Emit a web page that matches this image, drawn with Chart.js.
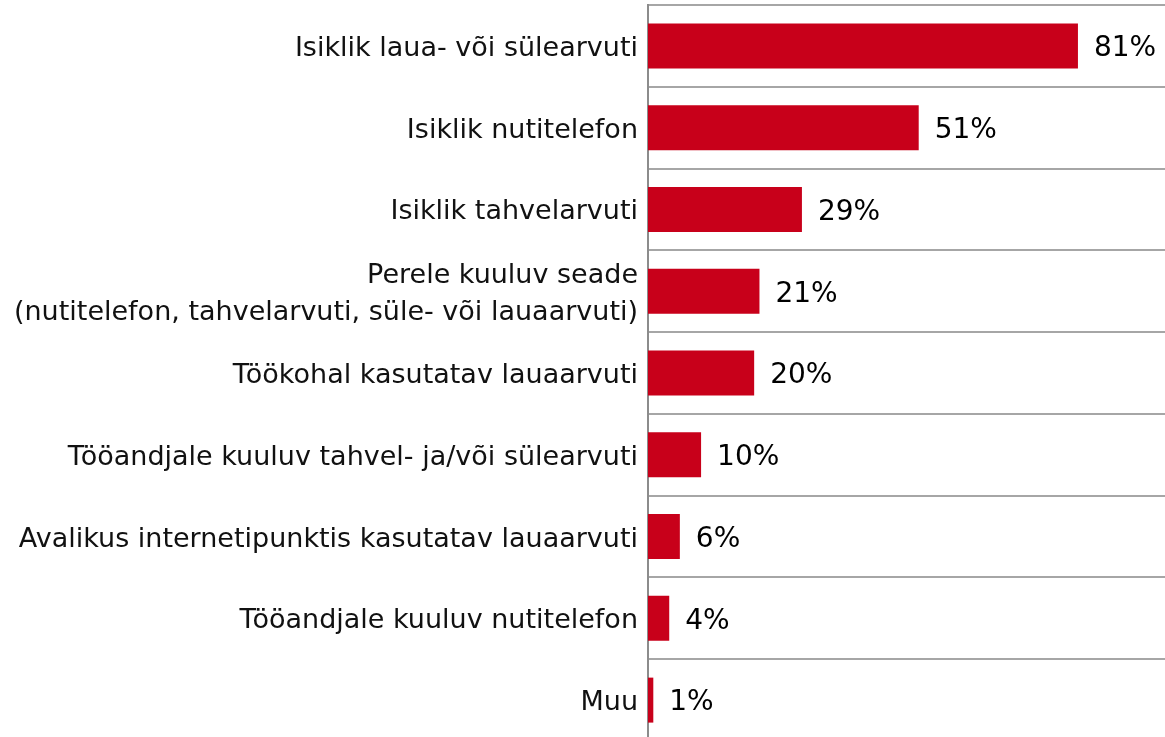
<!DOCTYPE html>
<html>
<head>
<meta charset="utf-8">
<script src="https://cdn.jsdelivr.net/npm/chart.js@4"></script>
<style>
  html, body { margin: 0; padding: 0; overflow: hidden; background: #fff; }
  #wrap { position: relative; width: 1165px; height: 741px; }
</style>
</head>
<body>
<div id="wrap"><canvas id="grafico"></canvas></div>
<script>
const categorias = [
  'Isiklik laua- või sülearvuti',
  'Isiklik nutitelefon',
  'Isiklik tahvelarvuti',
  ['Perele kuuluv seade', '(nutitelefon, tahvelarvuti, süle- või lauaarvuti)'],
  'Töökohal kasutatav lauaarvuti',
  'Tööandjale kuuluv tahvel- ja/või sülearvuti',
  'Avalikus internetipunktis kasutatav lauaarvuti',
  'Tööandjale kuuluv nutitelefon',
  'Muu'
];
const valores = [81, 51, 29, 21, 20, 10, 6, 4, 1];

const fonte = "'DejaVu Sans', Verdana, sans-serif";

// rótulos de valor à direita das barras
const rotulos = {
  id: 'rotulos',
  afterDatasetsDraw(chart) {
    const ctx = chart.ctx;
    const meta = chart.getDatasetMeta(0);
    ctx.save();
    ctx.font = '28px ' + fonte;
    ctx.fillStyle = '#000';
    ctx.textAlign = 'left';
    ctx.textBaseline = 'middle';
    meta.data.forEach((bar, i) => {
      ctx.fillText(valores[i] + '%', bar.x + 16, bar.y + 3);
    });
    ctx.restore();
  }
};

new Chart(document.getElementById('grafico'), {
  type: 'bar',
  data: {
    labels: categorias,
    datasets: [{
      data: valores,
      backgroundColor: '#c8001a',
      borderWidth: 0,
      categoryPercentage: 1,
      barPercentage: 0.55
    }]
  },
  options: {
    indexAxis: 'y',
    responsive: true,
    maintainAspectRatio: false,
    animation: false,
    layout: { padding: { top: 5, right: 0, bottom: 0, left: 0 } },
    plugins: {
      legend: { display: false },
      tooltip: { enabled: false }
    },
    scales: {
      x: {
        display: false,
        min: 0,
        max: 97.4
      },
      y: {
        afterFit: (scale) => {
          scale.width = 648;
          scale.paddingTop = 0;
          scale.paddingBottom = 0;
        },
        grid: { color: '#a6a6a6', lineWidth: 2, drawTicks: false },
        border: { color: '#8c8c8c', width: 2 },
        ticks: {
          color: '#111',
          padding: 10,
          labelOffset: 3,
          font: { family: fonte, size: 27, lineHeight: 1.37 }
        }
      }
    }
  },
  plugins: [rotulos]
});
</script>
</body>
</html>
